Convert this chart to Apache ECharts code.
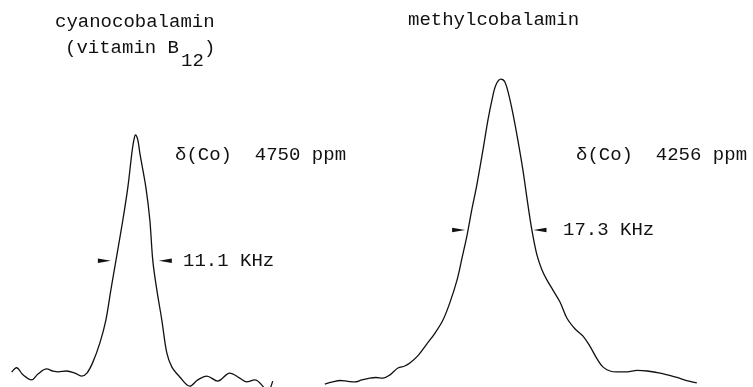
<!DOCTYPE html>
<html>
<head>
<meta charset="utf-8">
<script src="https://cdn.jsdelivr.net/npm/echarts@6/dist/echarts.min.js"></script>
<style>
  html, body { margin: 0; padding: 0; background: #fff; }
  #chart { width: 753px; height: 387px; }
</style>
</head>
<body>
<div id="chart"></div>
<script>
// 59Co NMR spectra: frequency offset from the line centre (kHz) and intensity (a.u.)
const cyanoFreq = [-37.0, -35.5, -33.6, -31.0, -29.1, -26.5, -24.6, -23.1, -20.5, -18.0,
  -16.0, -14.4, -12.6, -10.5, -8.7, -7.2, -5.7, -3.6, -2.1, -0.9, -0.3, 0.2, 0.9, 1.5,
  3.3, 4.5, 5.4, 6.6, 8.1, 9.6, 11.1, 13.5, 16.5, 18.9, 21.6, 24.9, 28.5, 31.5, 33.6,
  36.0, 38.4, 39.6, 41.4];
const cyanoIntensity = [1.0, 2.5, 0.1, -1.6, 0.4, 2.1, 1.4, 1.1, 1.4, 0.7,
  -0.3, 0.7, 4.4, 10.9, 18.6, 28.8, 38.6, 52.4, 63.5, 75.0, 79.4, 81.1, 79.4, 75.0,
  63.5, 52.4, 38.6, 28.8, 18.6, 7.5, 2.8, -0.6, -3.7, -1.6, -0.3, -2.0, 0.7, -1.0, -2.3,
  -1.6, -3.7, -6.4, -2.0];

const methylFreq = [-48.9, -46.7, -44.7, -42.5, -40.6, -38.6, -36.4, -34.7, -32.8, -30.8,
  -28.6, -26.7, -25.3, -23.1, -20.6, -18.3, -16.1, -14.2, -12.2, -10.8, -9.4, -8.1,
  -6.7, -5.0, -3.6, -2.5, -1.4, 0.0, 1.1, 2.2, 3.3, 4.7, 6.1, 7.5, 8.6, 10.0, 11.4,
  12.8, 14.4, 16.4, 18.3, 20.6, 22.8, 24.7, 26.7, 28.3, 30.3, 32.2, 35.0, 37.8, 40.6,
  44.2, 48.3, 52.5, 54.4];
const methylIntensity = [-3.0, -2.3, -1.8, -2.1, -2.3, -1.6, -1.0, -0.8, -1.0, 0.1,
  2.4, 3.1, 4.1, 6.5, 10.5, 14.2, 18.6, 24.4, 32.1, 39.6, 47.3, 55.8,
  64.2, 76.0, 86.2, 92.9, 98.0, 100.0, 99.0, 94.6, 88.5, 79.4, 69.3, 57.5, 49.0, 40.6, 35.5,
  32.1, 28.8, 24.7, 19.3, 15.6, 13.2, 9.8, 5.5, 2.8, 1.4, 1.1, 1.1, 1.6, 1.4,
  0.7, -0.6, -2.1, -2.6];

// line widths at half height (kHz) and chemical shifts (ppm)
const linewidths = [11.1, 17.3];
const shifts = [4750, 4256];
const halfHeight = [38.6, 49.0];
const compounds = ['cyanocobalamin', 'methylcobalamin'];

const pair = (xs, ys) => xs.map((x, i) => [x, ys[i]]);

const FONT = '19px "Liberation Mono", "Courier New", monospace';
const INK = '#111';
const POINT_RIGHT = 'path://M0,0L12,2L0,4Z';
const POINT_LEFT = 'path://M12,0L0,2L12,4Z';

// wedge pointers on either side of the line, marking the full width at half height
function widthPointers(fwhm, level, offL, offR) {
  const h = fwhm / 2;
  return {
    silent: true,
    symbolSize: [13, 4.5],
    itemStyle: { color: INK },
    label: { show: false },
    data: [
      { coord: [-h - offL, level], symbol: POINT_RIGHT },
      { coord: [h + offR, level], symbol: POINT_LEFT }
    ]
  };
}

const chart = echarts.init(document.getElementById('chart'), null, { renderer: 'canvas' });

chart.setOption({
  animation: false,
  backgroundColor: '#fff',
  grid: [
    { left: 0, top: 0, width: 300, height: 387 },
    { left: 300, top: 0, width: 453, height: 387 }
  ],
  xAxis: [
    { type: 'value', gridIndex: 0, min: -40.5, max: 49.6, show: false },
    { type: 'value', gridIndex: 1, min: -55.8, max: 70, show: false }
  ],
  yAxis: [
    { type: 'value', gridIndex: 0, min: -4, max: 126.7, show: false },
    { type: 'value', gridIndex: 1, min: -4, max: 126.7, show: false }
  ],
  series: [
    {
      name: compounds[0], type: 'line', xAxisIndex: 0, yAxisIndex: 0,
      data: pair(cyanoFreq, cyanoIntensity),
      smooth: 0.35, showSymbol: false, clip: true,
      lineStyle: { color: INK, width: 1.3 },
      markPoint: widthPointers(linewidths[0], halfHeight[0], 3.6, 3.6)
    },
    {
      name: compounds[1], type: 'line', xAxisIndex: 1, yAxisIndex: 1,
      data: pair(methylFreq, methylIntensity),
      smooth: 0.35, showSymbol: false, clip: true,
      lineStyle: { color: INK, width: 1.3 },
      markPoint: widthPointers(linewidths[1], halfHeight[1], 3.1, 2.2)
    }
  ],
  graphic: [
    { type: 'text', left: 55, top: 12, style: { text: compounds[0], font: FONT, fill: INK } },
    { type: 'text', left: 65, top: 38, style: { text: '(vitamin B', font: FONT, fill: INK } },
    { type: 'text', left: 181, top: 51, style: { text: '12', font: FONT, fill: INK } },
    { type: 'text', left: 204, top: 38, style: { text: ')', font: FONT, fill: INK } },
    { type: 'text', left: 408, top: 10, style: { text: compounds[1], font: FONT, fill: INK } },
    { type: 'text', left: 175, top: 145, style: { text: 'δ(Co)  ' + shifts[0] + ' ppm', font: FONT, fill: INK } },
    { type: 'text', left: 576, top: 145, style: { text: 'δ(Co)  ' + shifts[1] + ' ppm', font: FONT, fill: INK } },
    { type: 'text', left: 183, top: 251, style: { text: linewidths[0].toFixed(1) + ' KHz', font: FONT, fill: INK } },
    { type: 'text', left: 563, top: 220, style: { text: linewidths[1].toFixed(1) + ' KHz', font: FONT, fill: INK } }
  ]
});
</script>
</body>
</html>
